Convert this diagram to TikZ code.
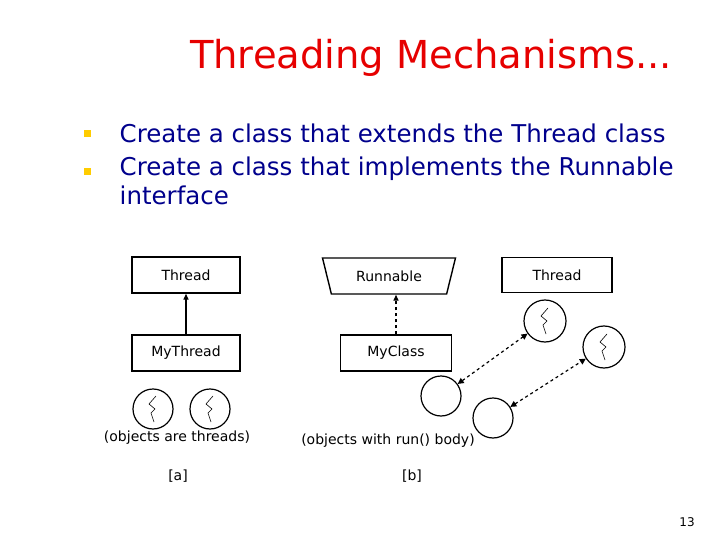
\documentclass[tikz,border=0pt]{standalone}
\usepackage{fontspec}
\setmainfont{DejaVu Sans}
\usetikzlibrary{arrows.meta,shapes.geometric,calc}
\definecolor{titlered}{RGB}{230,0,0}
\definecolor{navy}{RGB}{0,0,140}
\definecolor{bulletyel}{RGB}{255,204,0}
\tikzset{every picture/.style={line width=1.4pt}}
\tikzset{
  classbox/.style={draw,minimum width=108pt,minimum height=36pt,inner sep=0pt,font=\fontsize{14}{16}\selectfont},
  obj/.style={draw,circle,minimum size=40pt,inner sep=0pt,line width=1.2pt},
  lbl/.style={inner sep=0pt,font=\fontsize{14}{16}\selectfont},
  tip/.style={-{Triangle[length=6pt,width=5pt]}},
  link/.style={{Triangle[length=6pt,width=6pt]}-{Triangle[length=6pt,width=6pt]},dashed,line width=1.2pt}
}
\newcommand{\squig}[1]{\draw[line width=0.6pt] ($(#1)+(3,-13)$) -- ($(#1)+(-4,-5)$) -- ($(#1)+(2,0)$) -- ($(#1)+(-2,4)$) -- ($(#1)+(1,13)$);}

\begin{document}
\begin{tikzpicture}[x=1pt,y=1pt,yscale=-1]
\useasboundingbox (0,0) rectangle (720,540);

% Title
\node (title) [text=titlered,font=\fontsize{38.5}{44}\selectfont,inner sep=0pt] at (431,58) {Threading Mechanisms...};

% Bullets
\fill[bulletyel] (84,130) rectangle (91,137);
\fill[bulletyel] (84,168) rectangle (91,175);
\node (b1) [anchor=west,text=navy,font=\fontsize{24.5}{29}\selectfont,inner sep=0pt] at (119,133) {Create a class that extends the Thread class};
\node (b2) [anchor=north west,text=navy,font=\fontsize{24.5}{29}\selectfont,inner sep=0pt,align=left] at (119,156) {Create a class that implements the Runnable\\interface};

% [a]
\node (thr) [classbox] at (186,275) {Thread};
\node (mythr) [classbox] at (186,353) {MyThread};
\draw[tip] (mythr) -- (thr);
\node (t1) [obj] at (153,409) {};
\node (t2) [obj] at (210,409) {};
\node (la) [lbl] at (177,438) {(objects are threads)};
\node (a) [lbl] at (178,476) {[a]};

% [b]
\node (run) [draw,trapezium,shape border rotate=180,trapezium left angle=65,trapezium right angle=65,minimum width=134pt,minimum height=36pt,inner sep=0pt,font=\fontsize{14}{16}\selectfont,trapezium stretches=true] at (389,276) {Runnable};
\node (mycls) [classbox,minimum width=111pt] at (396,353) {MyClass};
\draw[tip,dashed] (mycls.north) -- (mycls.north |- run.south);
\node (thr2) [classbox,minimum width=110pt,minimum height=35pt] at (557,275) {Thread};
\node (w1) [obj,minimum size=42pt] at (545,321) {};
\node (w2) [obj,minimum size=42pt] at (604,347) {};
\node (o1) [obj] at (441,396) {};
\node (o2) [obj] at (493,418) {};
\draw[link] (o1) -- (w1);
\draw[link] (o2) -- (w2);
\node (lb) [lbl] at (388,441) {(objects with run() body)};
\node (b) [lbl] at (412,476) {[b]};

\foreach \c in {t1,t2,w1,w2} {\squig{\c}}

\node (page) [lbl,font=\fontsize{12}{14}\selectfont] at (687,522) {13};
\end{tikzpicture}
\end{document}
